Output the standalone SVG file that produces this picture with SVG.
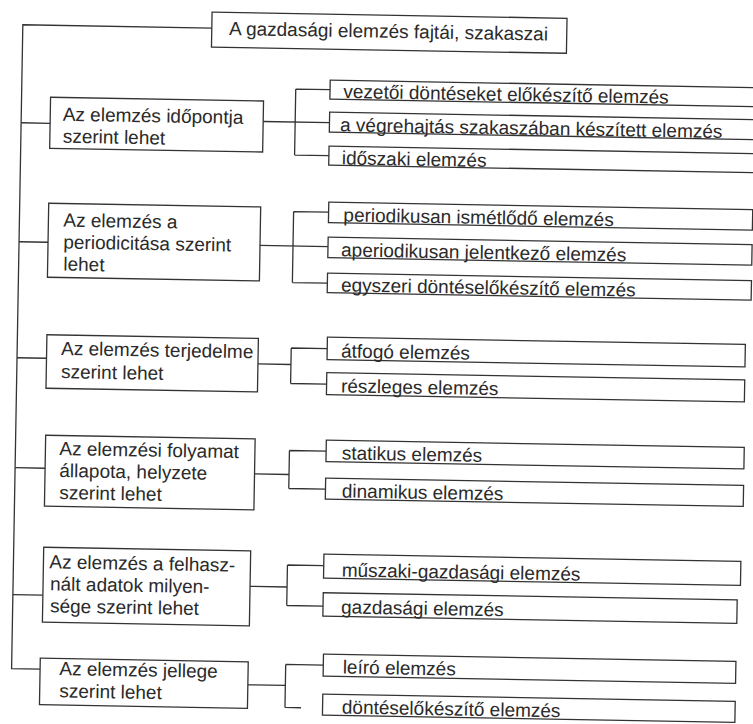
<svg xmlns="http://www.w3.org/2000/svg" width="753" height="724" viewBox="0 0 753 724">
<style>
.box{fill:none;stroke:#333;stroke-width:1.3}
.ln{fill:none;stroke:#333;stroke-width:1.3}
text{font-family:"Liberation Sans",Arial,sans-serif;font-size:19px;fill:#2a2a2a}
</style>
<rect width="753" height="724" fill="#fff"/>
<g transform="rotate(1 376 362)">
<g id="connectors">
<path class="ln" d="M206,31 H17 V675 H45.5"/>
<path class="ln" d="M17,129 H46 M17,248 H46 M17,364 H46.5 M17,474 H47 M17,601 H47"/>
<path class="ln" d="M259,123.5 H325.3 M291,90.5 V156.5 M291,90.5 H325.3 M291,156.5 H325.3"/>
<path class="ln" d="M258,247.5 H326 M291,213 V284 M291,213 H326 M291,284 H326"/>
<path class="ln" d="M258,366 H291 M291,349.5 V385 M291,349.5 H327 M291,385 H327"/>
<path class="ln" d="M256.5,476 H291 M291,452 V490 M291,452 H327.7 M291,490 H327.7"/>
<path class="ln" d="M254,588.5 H291 M291,566.5 V607 M291,566.5 H327.3 M291,607 H327.3"/>
<path class="ln" d="M253.5,687 H291 M291,666 V709 M291,666 H328.6 M291,709 H307"/>
</g>
<g id="title"><rect class="box" x="206" y="15" width="355" height="35"/><text x="223.3" y="37.6">A gazdasági elemzés fajtái, szakaszai</text></g>
<g id="b1"><rect class="box" x="46" y="103" width="213" height="51"/><text x="58.5" y="126.2">Az elemzés időpontja</text><text x="58.9" y="148.2">szerint lehet</text></g>
<g id="b2"><rect class="box" x="46" y="209" width="212" height="74"/><text x="61" y="232">Az elemzés a</text><text x="61.3" y="254">periodicitása szerint</text><text x="61.7" y="276">lehet</text></g>
<g id="b3"><rect class="box" x="46.5" y="340.5" width="211.5" height="53.5"/><text x="61" y="360.4">Az elemzés terjedelme</text><text x="61.3" y="383.6">szerint lehet</text></g>
<g id="b4"><rect class="box" x="47" y="441" width="209.5" height="71"/><text x="61" y="460.5">Az elemzési folyamat</text><text x="61.3" y="482.5">állapota, helyzete</text><text x="61.7" y="504.5">szerint lehet</text></g>
<g id="b5"><rect class="box" x="47" y="553" width="207" height="75"/><text x="53" y="574">Az elemzés a felhasz-</text><text x="54" y="596">nált adatok milyen-</text><text x="54.4" y="618">sége szerint lehet</text></g>
<g id="b6"><rect class="box" x="45.5" y="664" width="208" height="46.5"/><text x="64.8" y="680.5">Az elemzés jellege</text><text x="65.2" y="702.8">szerint lehet</text></g>
<g id="c1a"><rect class="box" x="325.3" y="81" width="450" height="19"/><text x="338.7" y="98.5">vezetői döntéseket előkészítő elemzés</text></g>
<g id="c1b"><rect class="box" x="325.3" y="113" width="450" height="20"/><text x="336" y="132">a végrehajtás szakaszában készített elemzés</text></g>
<g id="c1c"><rect class="box" x="325.3" y="147" width="450" height="19"/><text x="338.3" y="165">időszaki elemzés</text></g>
<g id="c2a"><rect class="box" x="326" y="203" width="424" height="20.5"/><text x="340.9" y="222">periodikusan ismétlődő elemzés</text></g>
<g id="c2b"><rect class="box" x="326" y="238" width="424" height="20.5"/><text x="339.2" y="257">aperiodikusan jelentkező elemzés</text></g>
<g id="c2c"><rect class="box" x="326" y="274" width="424" height="19.5"/><text x="339.7" y="292">egyszeri döntéselőkészítő elemzés</text></g>
<g id="c3a"><rect class="box" x="327" y="338" width="418" height="22.5"/><text x="340.9" y="358">átfogó elemzés</text></g>
<g id="c3b"><rect class="box" x="327" y="373.5" width="418" height="22"/><text x="341.5" y="393">részleges elemzés</text></g>
<g id="c4a"><rect class="box" x="327.7" y="441" width="418" height="21.5"/><text x="343.4" y="460">statikus elemzés</text></g>
<g id="c4b"><rect class="box" x="327.7" y="479" width="418" height="21"/><text x="344.1" y="498">dinamikus elemzés</text></g>
<g id="c5a"><rect class="box" x="327.3" y="555" width="417" height="24"/><text x="345.4" y="577">műszaki-gazdasági elemzés</text></g>
<g id="c5b"><rect class="box" x="327.3" y="593.6" width="414" height="23.4"/><text x="345.4" y="614">gazdasági elemzés</text></g>
<g id="c6a"><rect class="box" x="328.6" y="655" width="412.5" height="22"/><text x="348.1" y="674">leíró elemzés</text></g>
<g id="c6b"><rect class="box" x="328.6" y="695" width="412.5" height="21"/><text x="347.9" y="714">döntéselőkészítő elemzés</text></g>
</g>
</svg>
